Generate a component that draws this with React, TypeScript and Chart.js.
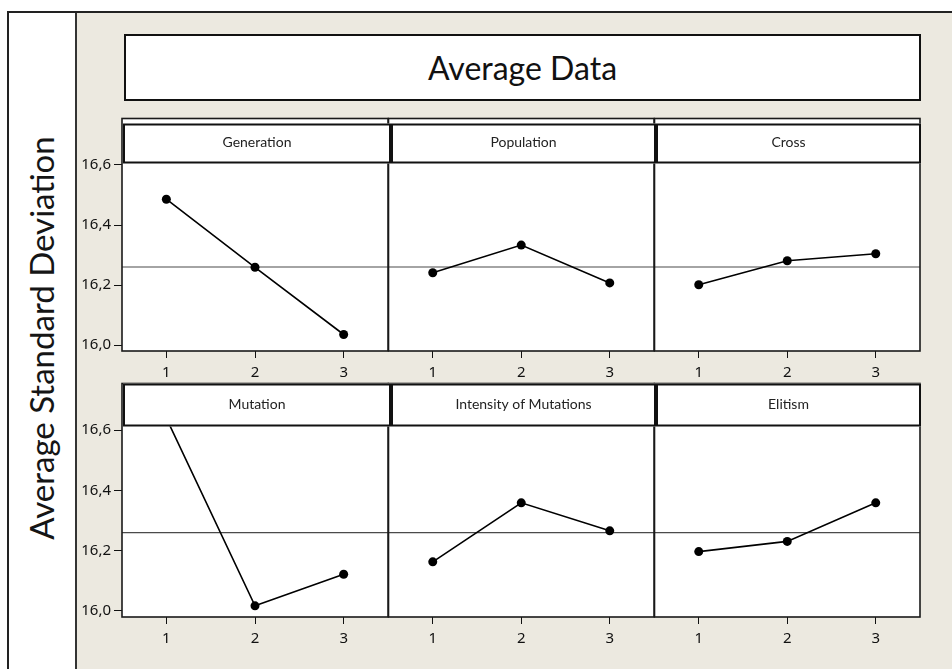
import React, { useEffect, useRef } from "react";
import { Chart, registerables } from "chart.js";

Chart.register(...registerables);

// ---------- data ----------
const levels = [1, 2, 3];
const factorNames = [
  "Generation",
  "Population",
  "Cross",
  "Mutation",
  "Intensity of Mutations",
  "Elitism",
];
const generationMeans = [16.486, 16.259, 16.035];
const populationMeans = [16.241, 16.333, 16.207];
const crossMeans = [16.201, 16.281, 16.304];
const mutationMeans = [16.64, 16.017, 16.122];
const intensityMeans = [16.163, 16.359, 16.266];
const elitismMeans = [16.197, 16.231, 16.359];
const grandMean = 16.26;
const yTickValues = [16.0, 16.2, 16.4, 16.6];
const xTickValues = [1, 2, 3];
const chartTitle = "Average Data";
const yAxisTitle = "Average Standard Deviation";

const seriesByFactor = [
  generationMeans,
  populationMeans,
  crossMeans,
  mutationMeans,
  intensityMeans,
  elitismMeans,
];

// ---------- layout ----------
const Y_MIN = 15.98;
const Y_MAX = 16.755;
const X_MIN = 0.5;
const X_MAX = 3.5;
const COL_EDGES = [122, 388, 654, 920];
const ROWS = [
  { top: 118, bottom: 351, stripOffset: 5, stripH: 40 },
  { top: 383, bottom: 617, stripOffset: 0, stripH: 43 },
];
const STRIP_X = [
  [123, 391],
  [391, 656],
  [656, 921],
];
const Y_AXIS_W = 45;
const X_AXIS_H = 40;
const PAD = 4;
const PAD_R = 6;
const BEIGE = "#ECE9E0";
const TICK_FONT = { family: "'Noto Sans', sans-serif", size: 15 };

const fmt = (v: number) => v.toFixed(1).replace(".", ",");

const zeroPad = (s: any) => {
  s.paddingTop = 0;
  s.paddingBottom = 0;
  s.paddingLeft = 0;
  s.paddingRight = 0;
};

const panelPlugin = {
  id: "panelDecor",
  beforeDraw(chart: any) {
    const { ctx, chartArea: a } = chart;
    ctx.save();
    ctx.fillStyle = "#ffffff";
    ctx.fillRect(a.left, a.top, a.right - a.left, a.bottom - a.top);
    ctx.restore();
  },
  afterDatasetsDraw(chart: any, _args: any, opts: any) {
    const { ctx, chartArea: a } = chart;
    ctx.save();
    // panel frame
    ctx.strokeStyle = "#1a1a1a";
    ctx.lineWidth = 1.6;
    ctx.strokeRect(a.left, a.top, a.right - a.left, a.bottom - a.top);
    // strip
    const sy = a.top + opts.stripOffset;
    const sx0 = opts.sx0;
    const sx1 = opts.sx1;
    ctx.fillStyle = "#ffffff";
    ctx.fillRect(sx0, sy, sx1 - sx0, opts.stripH);
    ctx.strokeStyle = "#111111";
    ctx.lineWidth = 2;
    ctx.strokeRect(sx0 + 1, sy + 1, sx1 - sx0 - 2, opts.stripH - 2);
    ctx.fillStyle = "#222222";
    ctx.font = "14px Lato, sans-serif";
    ctx.textAlign = "center";
    ctx.textBaseline = "middle";
    ctx.fillText(opts.label, (sx0 + sx1) / 2, sy + opts.stripH / 2 - 1);
    ctx.restore();
  },
};

function Panel({ index }: { index: number }) {
  const ref = useRef<HTMLCanvasElement>(null);
  const col = index % 3;
  const row = Math.floor(index / 3);
  const L = COL_EDGES[col];
  const R = COL_EDGES[col + 1];
  const { top: T, bottom: B, stripOffset, stripH } = ROWS[row];
  const showY = col === 0;
  const leftExtra = showY ? Y_AXIS_W : PAD;
  const canvasLeft = L - leftExtra;
  const canvasTop = T - PAD;
  const width = R - L + leftExtra + PAD_R;
  const height = PAD + (B - T) + X_AXIS_H;

  useEffect(() => {
    if (!ref.current) return;
    const values = seriesByFactor[index];
    const chart = new Chart(ref.current, {
      type: "line",
      data: {
        datasets: [
          {
            data: levels.map((l, i) => ({ x: l, y: values[i] })),
            borderColor: "#000000",
            borderWidth: 1.6,
            pointRadius: 4.5,
            pointBackgroundColor: "#000000",
            pointBorderWidth: 0,
            tension: 0,
            order: 0,
          },
          {
            data: [
              { x: X_MIN, y: grandMean },
              { x: X_MAX, y: grandMean },
            ],
            borderColor: "#4a4a4a",
            borderWidth: 1.2,
            pointRadius: 0,
            tension: 0,
            order: 1,
          },
        ],
      },
      options: {
        animation: false,
        responsive: false,
        devicePixelRatio: 1,
        events: [],
        layout: { padding: { left: showY ? 0 : PAD, right: PAD_R, top: PAD, bottom: 0 } },
        plugins: {
          legend: { display: false },
          tooltip: { enabled: false },
          title: { display: false },
          panelDecor: {
            label: factorNames[index],
            stripOffset,
            stripH,
            sx0: STRIP_X[col][0] - canvasLeft,
            sx1: STRIP_X[col][1] - canvasLeft,
          },
        } as any,
        scales: {
          x: {
            type: "linear",
            min: X_MIN,
            max: X_MAX,
            afterBuildTicks: (s: any) => {
              s.ticks = xTickValues.map((v) => ({ value: v }));
            },
            afterFit: (s: any) => {
              s.height = X_AXIS_H;
              zeroPad(s);
            },
            grid: { drawOnChartArea: false, drawTicks: true, tickLength: 7, color: "#111111", lineWidth: 1 },
            border: { display: false },
            ticks: {
              padding: 6,
              color: "#111111",
              font: TICK_FONT,
              maxRotation: 0,
              autoSkip: false,
              callback: (v: any) => String(v),
            },
          },
          y: {
            type: "linear",
            display: showY,
            min: Y_MIN,
            max: Y_MAX,
            afterBuildTicks: (s: any) => {
              s.ticks = yTickValues.map((v) => ({ value: v }));
            },
            afterFit: (s: any) => {
              s.width = showY ? Y_AXIS_W : 0;
              zeroPad(s);
            },
            grid: { drawOnChartArea: false, drawTicks: true, tickLength: 8, color: "#111111", lineWidth: 1 },
            border: { display: false },
            ticks: {
              padding: 3,
              color: "#111111",
              font: TICK_FONT,
              autoSkip: false,
              callback: (v: any) => fmt(Number(v)),
            },
          },
        },
      } as any,
      plugins: [panelPlugin as any],
    });
    return () => chart.destroy();
  }, [index]);

  return (
    <canvas
      ref={ref}
      width={width}
      height={height}
      style={{
        position: "absolute",
        left: canvasLeft,
        top: canvasTop,
        width,
        height,
        zIndex: 10 - col,
      }}
    />
  );
}

export default function App() {
  useEffect(() => {
    document.body.style.margin = "0";
  }, []);
  return (
    <div
      style={{
        position: "absolute",
        left: 0,
        top: 0,
        width: 952,
        height: 669,
        background: "#ffffff",
        overflow: "hidden",
      }}
    >
      {/* outer frame with beige plot region */}
      <div
        style={{
          position: "absolute",
          left: 7,
          top: 11,
          width: 980,
          height: 700,
          boxSizing: "border-box",
          border: "2px solid #222",
          background: BEIGE,
        }}
      />
      {/* left label strip */}
      <div
        style={{
          position: "absolute",
          left: 9,
          top: 13,
          width: 68,
          height: 680,
          boxSizing: "border-box",
          borderRight: "2px solid #333",
          background: "#ffffff",
        }}
      />
      <div
        style={{
          position: "absolute",
          left: 41,
          top: 338,
          transform: "translate(-50%, -50%) rotate(-90deg)",
          whiteSpace: "nowrap",
          fontFamily: "Lato, sans-serif",
          fontSize: 33,
          color: "#151515",
          lineHeight: 1,
        }}
      >
        {yAxisTitle}
      </div>
      {/* title box */}
      <div
        style={{
          position: "absolute",
          left: 124,
          top: 34,
          width: 797,
          height: 67,
          boxSizing: "border-box",
          border: "2px solid #111",
          background: "#ffffff",
          display: "flex",
          alignItems: "center",
          justifyContent: "center",
          fontFamily: "Lato, sans-serif",
          fontSize: 32,
          color: "#111",
        }}
      >
        {chartTitle}
      </div>
      {factorNames.map((_, i) => (
        <Panel key={i} index={i} />
      ))}
    </div>
  );
}
